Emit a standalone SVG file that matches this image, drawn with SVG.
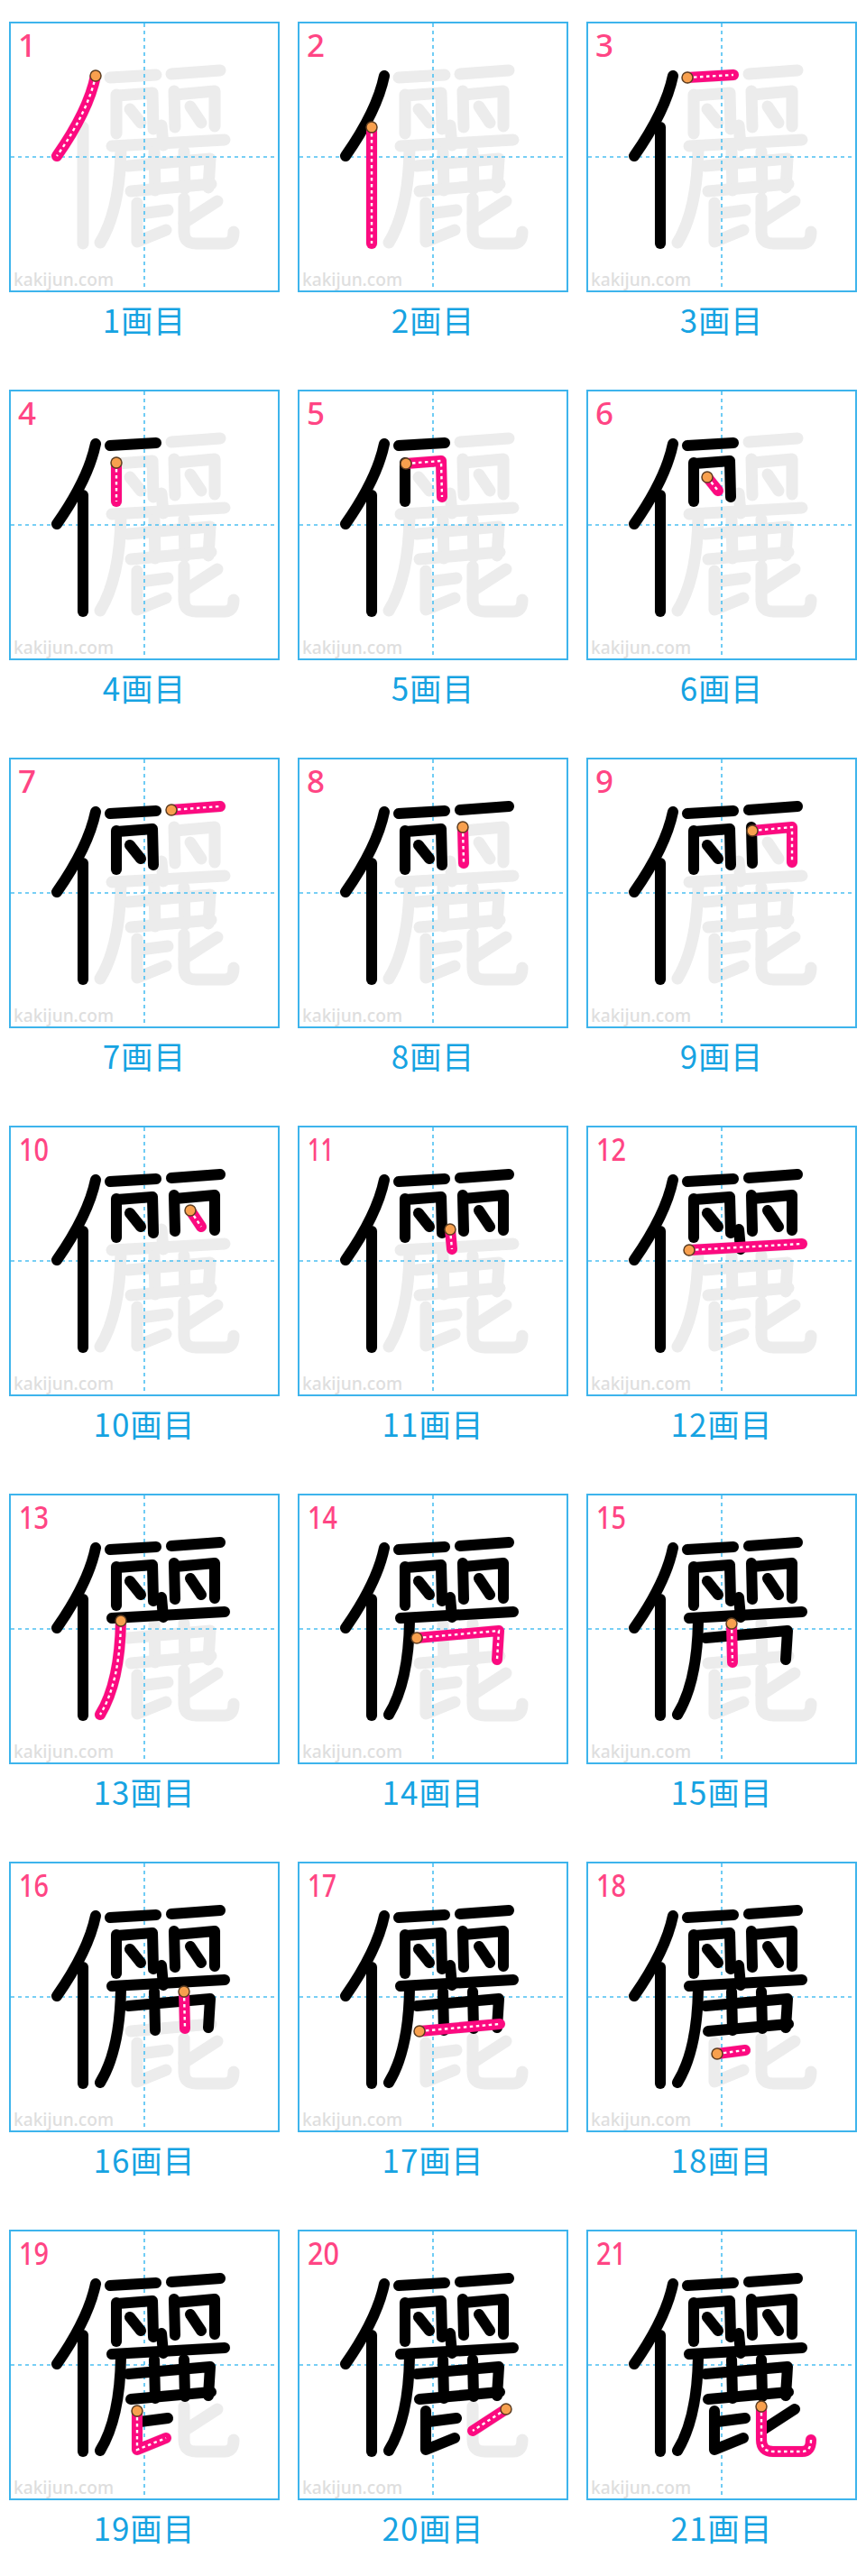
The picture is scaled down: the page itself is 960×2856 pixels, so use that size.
<svg xmlns="http://www.w3.org/2000/svg" xmlns:xlink="http://www.w3.org/1999/xlink" width="960" height="2856" viewBox="0 0 960 2856">
<style>
.box{fill:#fff;stroke:#3db4ec;stroke-width:2}
.grid{stroke:#4cc0f2;stroke-width:1.6;stroke-dasharray:4 4;fill:none}
.gray{stroke:#ececec;stroke-width:13;fill:none;stroke-linecap:round;stroke-linejoin:round}
.blk{stroke:#000;stroke-width:12;fill:none;stroke-linecap:round;stroke-linejoin:round}
.pink{stroke:#fc0a80;stroke-width:12;fill:none;stroke-linecap:round;stroke-linejoin:round}
.dash{stroke:#fff;stroke-width:2.4;fill:none;stroke-dasharray:3.5 3.5}
.dot{fill:#f8a04e;stroke:#5e3f22;stroke-width:1.5}
.num{font-family:"Noto Sans","Liberation Sans",sans-serif;font-size:35px;font-weight:500;fill:#ff4584}
.wm{font-family:"Noto Sans","Liberation Sans",sans-serif;font-size:19px;font-weight:500;fill:#dedede}
.lbl{font-family:"Noto Sans CJK JP","Noto Sans",sans-serif;font-size:35px;letter-spacing:1px;fill:#16a3e2;text-anchor:middle}
</style>
<defs>
<path id="s1" d="M95,59 Q87,98 52,148"/>
<path id="s2" d="M81,116 L81,245"/>
<path id="s3" d="M111,61 L162,58"/>
<path id="s4" d="M118,80 L118,123"/>
<path id="s5" d="M119,81 L158,78 L159,118"/>
<path id="s6" d="M133,96 L145,111"/>
<path id="s7" d="M179,57 L233,53"/>
<path id="s8" d="M182,76 L183,116"/>
<path id="s9" d="M183,80 L227,76 L227,115"/>
<path id="s10" d="M200,93 L212,111"/>
<path id="s11" d="M168,114 L170,136"/>
<path id="s12" d="M113,137 L238,130"/>
<path id="s13" d="M123,140 Q122,208 100,244"/>
<path id="s14" d="M131,159 L222,151 L220,183"/>
<path id="s15" d="M160,143 L161,186"/>
<path id="s16" d="M193,143 L194,184"/>
<path id="s17" d="M134,187 L223,179"/>
<path id="s18" d="M144,212 L175,208"/>
<path id="s19" d="M141,200 L141,243 L173,230"/>
<path id="s20" d="M230,198 L193,222"/>
<path id="s21" d="M193,195 V232 Q193,245 206,245 H238 Q248,245 248,232"/>
<g id="char">
<use href="#s1"/><use href="#s2"/><use href="#s3"/><use href="#s4"/><use href="#s5"/><use href="#s6"/><use href="#s7"/>
<use href="#s8"/><use href="#s9"/><use href="#s10"/><use href="#s11"/><use href="#s12"/><use href="#s13"/><use href="#s14"/>
<use href="#s15"/><use href="#s16"/><use href="#s17"/><use href="#s18"/><use href="#s19"/><use href="#s20"/><use href="#s21"/>
</g>
<g id="grid"><path class="grid" d="M149,1 V297 M1,149 H297"/></g>
</defs>

<g id="p1" transform="translate(11,25)">
<rect class="box" width="298" height="298"/><use href="#char" class="gray"/><use href="#grid"/>
<text class="wm" x="4" y="292" textLength="111" lengthAdjust="spacingAndGlyphs">kakijun.com</text>
<use href="#s1" class="pink"/><use href="#s1" class="dash"/><circle class="dot" cx="95" cy="59" r="6"/>
<text class="num" x="9" y="38">1</text><text class="lbl" x="149" y="344">1画目</text>
</g>

<g id="p2" transform="translate(331,25)">
<rect class="box" width="298" height="298"/><use href="#char" class="gray"/><use href="#grid"/>
<text class="wm" x="4" y="292" textLength="111" lengthAdjust="spacingAndGlyphs">kakijun.com</text>
<use href="#s1" class="blk"/>
<use href="#s2" class="pink"/><use href="#s2" class="dash"/><circle class="dot" cx="81" cy="116" r="6"/>
<text class="num" x="9" y="38">2</text><text class="lbl" x="149" y="344">2画目</text>
</g>

<g id="p3" transform="translate(651,25)">
<rect class="box" width="298" height="298"/><use href="#char" class="gray"/><use href="#grid"/>
<text class="wm" x="4" y="292" textLength="111" lengthAdjust="spacingAndGlyphs">kakijun.com</text>
<use href="#s1" class="blk"/><use href="#s2" class="blk"/>
<use href="#s3" class="pink"/><use href="#s3" class="dash"/><circle class="dot" cx="111" cy="61" r="6"/>
<text class="num" x="9" y="38">3</text><text class="lbl" x="149" y="344">3画目</text>
</g>

<g id="p4" transform="translate(11,433)">
<rect class="box" width="298" height="298"/><use href="#char" class="gray"/><use href="#grid"/>
<text class="wm" x="4" y="292" textLength="111" lengthAdjust="spacingAndGlyphs">kakijun.com</text>
<use href="#s1" class="blk"/><use href="#s2" class="blk"/><use href="#s3" class="blk"/>
<use href="#s4" class="pink"/><use href="#s4" class="dash"/><circle class="dot" cx="118" cy="80" r="6"/>
<text class="num" x="9" y="38">4</text><text class="lbl" x="149" y="344">4画目</text>
</g>

<g id="p5" transform="translate(331,433)">
<rect class="box" width="298" height="298"/><use href="#char" class="gray"/><use href="#grid"/>
<text class="wm" x="4" y="292" textLength="111" lengthAdjust="spacingAndGlyphs">kakijun.com</text>
<use href="#s1" class="blk"/><use href="#s2" class="blk"/><use href="#s3" class="blk"/><use href="#s4" class="blk"/>
<use href="#s5" class="pink"/><use href="#s5" class="dash"/><circle class="dot" cx="119" cy="81" r="6"/>
<text class="num" x="9" y="38">5</text><text class="lbl" x="149" y="344">5画目</text>
</g>

<g id="p6" transform="translate(651,433)">
<rect class="box" width="298" height="298"/><use href="#char" class="gray"/><use href="#grid"/>
<text class="wm" x="4" y="292" textLength="111" lengthAdjust="spacingAndGlyphs">kakijun.com</text>
<use href="#s1" class="blk"/><use href="#s2" class="blk"/><use href="#s3" class="blk"/><use href="#s4" class="blk"/><use href="#s5" class="blk"/>
<use href="#s6" class="pink"/><use href="#s6" class="dash"/><circle class="dot" cx="133" cy="96" r="6"/>
<text class="num" x="9" y="38">6</text><text class="lbl" x="149" y="344">6画目</text>
</g>

<g id="p7" transform="translate(11,841)">
<rect class="box" width="298" height="298"/><use href="#char" class="gray"/><use href="#grid"/>
<text class="wm" x="4" y="292" textLength="111" lengthAdjust="spacingAndGlyphs">kakijun.com</text>
<use href="#s1" class="blk"/><use href="#s2" class="blk"/><use href="#s3" class="blk"/><use href="#s4" class="blk"/><use href="#s5" class="blk"/><use href="#s6" class="blk"/>
<use href="#s7" class="pink"/><use href="#s7" class="dash"/><circle class="dot" cx="179" cy="57" r="6"/>
<text class="num" x="9" y="38">7</text><text class="lbl" x="149" y="344">7画目</text>
</g>

<g id="p8" transform="translate(331,841)">
<rect class="box" width="298" height="298"/><use href="#char" class="gray"/><use href="#grid"/>
<text class="wm" x="4" y="292" textLength="111" lengthAdjust="spacingAndGlyphs">kakijun.com</text>
<use href="#s1" class="blk"/><use href="#s2" class="blk"/><use href="#s3" class="blk"/><use href="#s4" class="blk"/><use href="#s5" class="blk"/><use href="#s6" class="blk"/><use href="#s7" class="blk"/>
<use href="#s8" class="pink"/><use href="#s8" class="dash"/><circle class="dot" cx="182" cy="76" r="6"/>
<text class="num" x="9" y="38">8</text><text class="lbl" x="149" y="344">8画目</text>
</g>

<g id="p9" transform="translate(651,841)">
<rect class="box" width="298" height="298"/><use href="#char" class="gray"/><use href="#grid"/>
<text class="wm" x="4" y="292" textLength="111" lengthAdjust="spacingAndGlyphs">kakijun.com</text>
<use href="#s1" class="blk"/><use href="#s2" class="blk"/><use href="#s3" class="blk"/><use href="#s4" class="blk"/><use href="#s5" class="blk"/><use href="#s6" class="blk"/><use href="#s7" class="blk"/><use href="#s8" class="blk"/>
<use href="#s9" class="pink"/><use href="#s9" class="dash"/><circle class="dot" cx="183" cy="80" r="6"/>
<text class="num" x="9" y="38">9</text><text class="lbl" x="149" y="344">9画目</text>
</g>

<g id="p10" transform="translate(11,1249)">
<rect class="box" width="298" height="298"/><use href="#char" class="gray"/><use href="#grid"/>
<text class="wm" x="4" y="292" textLength="111" lengthAdjust="spacingAndGlyphs">kakijun.com</text>
<use href="#s1" class="blk"/><use href="#s2" class="blk"/><use href="#s3" class="blk"/><use href="#s4" class="blk"/><use href="#s5" class="blk"/><use href="#s6" class="blk"/><use href="#s7" class="blk"/><use href="#s8" class="blk"/><use href="#s9" class="blk"/>
<use href="#s10" class="pink"/><use href="#s10" class="dash"/><circle class="dot" cx="200" cy="93" r="6"/>
<text class="num" x="10" y="38" textLength="33" lengthAdjust="spacingAndGlyphs">10</text><text class="lbl" x="149" y="344">10画目</text>
</g>

<g id="p11" transform="translate(331,1249)">
<rect class="box" width="298" height="298"/><use href="#char" class="gray"/><use href="#grid"/>
<text class="wm" x="4" y="292" textLength="111" lengthAdjust="spacingAndGlyphs">kakijun.com</text>
<use href="#s1" class="blk"/><use href="#s2" class="blk"/><use href="#s3" class="blk"/><use href="#s4" class="blk"/><use href="#s5" class="blk"/><use href="#s6" class="blk"/><use href="#s7" class="blk"/><use href="#s8" class="blk"/><use href="#s9" class="blk"/><use href="#s10" class="blk"/>
<use href="#s11" class="pink"/><use href="#s11" class="dash"/><circle class="dot" cx="168" cy="114" r="6"/>
<text class="num" x="10" y="38" textLength="29" lengthAdjust="spacingAndGlyphs">11</text><text class="lbl" x="149" y="344">11画目</text>
</g>

<g id="p12" transform="translate(651,1249)">
<rect class="box" width="298" height="298"/><use href="#char" class="gray"/><use href="#grid"/>
<text class="wm" x="4" y="292" textLength="111" lengthAdjust="spacingAndGlyphs">kakijun.com</text>
<use href="#s1" class="blk"/><use href="#s2" class="blk"/><use href="#s3" class="blk"/><use href="#s4" class="blk"/><use href="#s5" class="blk"/><use href="#s6" class="blk"/><use href="#s7" class="blk"/><use href="#s8" class="blk"/><use href="#s9" class="blk"/><use href="#s10" class="blk"/><use href="#s11" class="blk"/>
<use href="#s12" class="pink"/><use href="#s12" class="dash"/><circle class="dot" cx="113" cy="137" r="6"/>
<text class="num" x="10" y="38" textLength="33" lengthAdjust="spacingAndGlyphs">12</text><text class="lbl" x="149" y="344">12画目</text>
</g>

<g id="p13" transform="translate(11,1657)">
<rect class="box" width="298" height="298"/><use href="#char" class="gray"/><use href="#grid"/>
<text class="wm" x="4" y="292" textLength="111" lengthAdjust="spacingAndGlyphs">kakijun.com</text>
<use href="#s1" class="blk"/><use href="#s2" class="blk"/><use href="#s3" class="blk"/><use href="#s4" class="blk"/><use href="#s5" class="blk"/><use href="#s6" class="blk"/><use href="#s7" class="blk"/><use href="#s8" class="blk"/><use href="#s9" class="blk"/><use href="#s10" class="blk"/><use href="#s11" class="blk"/><use href="#s12" class="blk"/>
<use href="#s13" class="pink"/><use href="#s13" class="dash"/><circle class="dot" cx="123" cy="140" r="6"/>
<text class="num" x="10" y="38" textLength="33" lengthAdjust="spacingAndGlyphs">13</text><text class="lbl" x="149" y="344">13画目</text>
</g>

<g id="p14" transform="translate(331,1657)">
<rect class="box" width="298" height="298"/><use href="#char" class="gray"/><use href="#grid"/>
<text class="wm" x="4" y="292" textLength="111" lengthAdjust="spacingAndGlyphs">kakijun.com</text>
<use href="#s1" class="blk"/><use href="#s2" class="blk"/><use href="#s3" class="blk"/><use href="#s4" class="blk"/><use href="#s5" class="blk"/><use href="#s6" class="blk"/><use href="#s7" class="blk"/><use href="#s8" class="blk"/><use href="#s9" class="blk"/><use href="#s10" class="blk"/><use href="#s11" class="blk"/><use href="#s12" class="blk"/><use href="#s13" class="blk"/>
<use href="#s14" class="pink"/><use href="#s14" class="dash"/><circle class="dot" cx="131" cy="159" r="6"/>
<text class="num" x="10" y="38" textLength="33" lengthAdjust="spacingAndGlyphs">14</text><text class="lbl" x="149" y="344">14画目</text>
</g>

<g id="p15" transform="translate(651,1657)">
<rect class="box" width="298" height="298"/><use href="#char" class="gray"/><use href="#grid"/>
<text class="wm" x="4" y="292" textLength="111" lengthAdjust="spacingAndGlyphs">kakijun.com</text>
<use href="#s1" class="blk"/><use href="#s2" class="blk"/><use href="#s3" class="blk"/><use href="#s4" class="blk"/><use href="#s5" class="blk"/><use href="#s6" class="blk"/><use href="#s7" class="blk"/><use href="#s8" class="blk"/><use href="#s9" class="blk"/><use href="#s10" class="blk"/><use href="#s11" class="blk"/><use href="#s12" class="blk"/><use href="#s13" class="blk"/><use href="#s14" class="blk"/>
<use href="#s15" class="pink"/><use href="#s15" class="dash"/><circle class="dot" cx="160" cy="143" r="6"/>
<text class="num" x="10" y="38" textLength="33" lengthAdjust="spacingAndGlyphs">15</text><text class="lbl" x="149" y="344">15画目</text>
</g>

<g id="p16" transform="translate(11,2065)">
<rect class="box" width="298" height="298"/><use href="#char" class="gray"/><use href="#grid"/>
<text class="wm" x="4" y="292" textLength="111" lengthAdjust="spacingAndGlyphs">kakijun.com</text>
<use href="#s1" class="blk"/><use href="#s2" class="blk"/><use href="#s3" class="blk"/><use href="#s4" class="blk"/><use href="#s5" class="blk"/><use href="#s6" class="blk"/><use href="#s7" class="blk"/><use href="#s8" class="blk"/><use href="#s9" class="blk"/><use href="#s10" class="blk"/><use href="#s11" class="blk"/><use href="#s12" class="blk"/><use href="#s13" class="blk"/><use href="#s14" class="blk"/><use href="#s15" class="blk"/>
<use href="#s16" class="pink"/><use href="#s16" class="dash"/><circle class="dot" cx="193" cy="143" r="6"/>
<text class="num" x="10" y="38" textLength="33" lengthAdjust="spacingAndGlyphs">16</text><text class="lbl" x="149" y="344">16画目</text>
</g>

<g id="p17" transform="translate(331,2065)">
<rect class="box" width="298" height="298"/><use href="#char" class="gray"/><use href="#grid"/>
<text class="wm" x="4" y="292" textLength="111" lengthAdjust="spacingAndGlyphs">kakijun.com</text>
<use href="#s1" class="blk"/><use href="#s2" class="blk"/><use href="#s3" class="blk"/><use href="#s4" class="blk"/><use href="#s5" class="blk"/><use href="#s6" class="blk"/><use href="#s7" class="blk"/><use href="#s8" class="blk"/><use href="#s9" class="blk"/><use href="#s10" class="blk"/><use href="#s11" class="blk"/><use href="#s12" class="blk"/><use href="#s13" class="blk"/><use href="#s14" class="blk"/><use href="#s15" class="blk"/><use href="#s16" class="blk"/>
<use href="#s17" class="pink"/><use href="#s17" class="dash"/><circle class="dot" cx="134" cy="187" r="6"/>
<text class="num" x="10" y="38" textLength="32" lengthAdjust="spacingAndGlyphs">17</text><text class="lbl" x="149" y="344">17画目</text>
</g>

<g id="p18" transform="translate(651,2065)">
<rect class="box" width="298" height="298"/><use href="#char" class="gray"/><use href="#grid"/>
<text class="wm" x="4" y="292" textLength="111" lengthAdjust="spacingAndGlyphs">kakijun.com</text>
<use href="#s1" class="blk"/><use href="#s2" class="blk"/><use href="#s3" class="blk"/><use href="#s4" class="blk"/><use href="#s5" class="blk"/><use href="#s6" class="blk"/><use href="#s7" class="blk"/><use href="#s8" class="blk"/><use href="#s9" class="blk"/><use href="#s10" class="blk"/><use href="#s11" class="blk"/><use href="#s12" class="blk"/><use href="#s13" class="blk"/><use href="#s14" class="blk"/><use href="#s15" class="blk"/><use href="#s16" class="blk"/><use href="#s17" class="blk"/>
<use href="#s18" class="pink"/><use href="#s18" class="dash"/><circle class="dot" cx="144" cy="212" r="6"/>
<text class="num" x="10" y="38" textLength="33" lengthAdjust="spacingAndGlyphs">18</text><text class="lbl" x="149" y="344">18画目</text>
</g>

<g id="p19" transform="translate(11,2473)">
<rect class="box" width="298" height="298"/><use href="#char" class="gray"/><use href="#grid"/>
<text class="wm" x="4" y="292" textLength="111" lengthAdjust="spacingAndGlyphs">kakijun.com</text>
<use href="#s1" class="blk"/><use href="#s2" class="blk"/><use href="#s3" class="blk"/><use href="#s4" class="blk"/><use href="#s5" class="blk"/><use href="#s6" class="blk"/><use href="#s7" class="blk"/><use href="#s8" class="blk"/><use href="#s9" class="blk"/><use href="#s10" class="blk"/><use href="#s11" class="blk"/><use href="#s12" class="blk"/><use href="#s13" class="blk"/><use href="#s14" class="blk"/><use href="#s15" class="blk"/><use href="#s16" class="blk"/><use href="#s17" class="blk"/><use href="#s18" class="blk"/>
<use href="#s19" class="pink"/><use href="#s19" class="dash"/><circle class="dot" cx="141" cy="200" r="6"/>
<text class="num" x="10" y="38" textLength="33" lengthAdjust="spacingAndGlyphs">19</text><text class="lbl" x="149" y="344">19画目</text>
</g>

<g id="p20" transform="translate(331,2473)">
<rect class="box" width="298" height="298"/><use href="#char" class="gray"/><use href="#grid"/>
<text class="wm" x="4" y="292" textLength="111" lengthAdjust="spacingAndGlyphs">kakijun.com</text>
<use href="#s1" class="blk"/><use href="#s2" class="blk"/><use href="#s3" class="blk"/><use href="#s4" class="blk"/><use href="#s5" class="blk"/><use href="#s6" class="blk"/><use href="#s7" class="blk"/><use href="#s8" class="blk"/><use href="#s9" class="blk"/><use href="#s10" class="blk"/><use href="#s11" class="blk"/><use href="#s12" class="blk"/><use href="#s13" class="blk"/><use href="#s14" class="blk"/><use href="#s15" class="blk"/><use href="#s16" class="blk"/><use href="#s17" class="blk"/><use href="#s18" class="blk"/><use href="#s19" class="blk"/>
<use href="#s20" class="pink"/><use href="#s20" class="dash"/><circle class="dot" cx="230" cy="198" r="6"/>
<text class="num" x="10" y="38" textLength="35" lengthAdjust="spacingAndGlyphs">20</text><text class="lbl" x="149" y="344">20画目</text>
</g>

<g id="p21" transform="translate(651,2473)">
<rect class="box" width="298" height="298"/><use href="#char" class="gray"/><use href="#grid"/>
<text class="wm" x="4" y="292" textLength="111" lengthAdjust="spacingAndGlyphs">kakijun.com</text>
<use href="#s1" class="blk"/><use href="#s2" class="blk"/><use href="#s3" class="blk"/><use href="#s4" class="blk"/><use href="#s5" class="blk"/><use href="#s6" class="blk"/><use href="#s7" class="blk"/><use href="#s8" class="blk"/><use href="#s9" class="blk"/><use href="#s10" class="blk"/><use href="#s11" class="blk"/><use href="#s12" class="blk"/><use href="#s13" class="blk"/><use href="#s14" class="blk"/><use href="#s15" class="blk"/><use href="#s16" class="blk"/><use href="#s17" class="blk"/><use href="#s18" class="blk"/><use href="#s19" class="blk"/><use href="#s20" class="blk"/>
<use href="#s21" class="pink"/><use href="#s21" class="dash"/><circle class="dot" cx="193" cy="195" r="6"/>
<text class="num" x="10" y="38" textLength="33" lengthAdjust="spacingAndGlyphs">21</text><text class="lbl" x="149" y="344">21画目</text>
</g>
</svg>
